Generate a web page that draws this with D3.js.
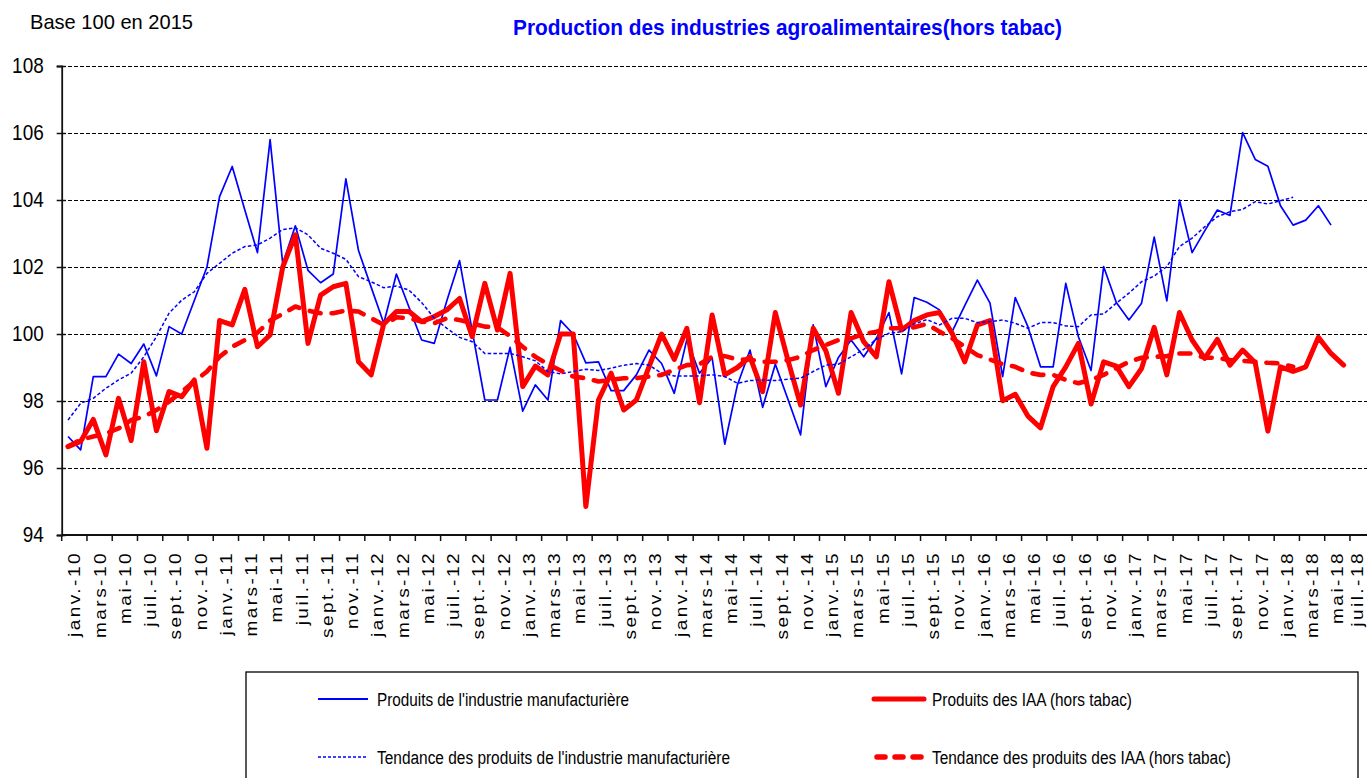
<!DOCTYPE html>
<html>
<head>
<meta charset="utf-8">
<script src="https://cdn.jsdelivr.net/npm/d3@7"></script>
<style>
body { margin: 0; background: #fff; }
svg { display: block; font-family: 'Liberation Sans', Arial, sans-serif; }
</style>
</head>
<body>
<div id="chart"></div>
<script>
// tick labels, one every two months
var tickLabels = [
    'janv.-10', 'mars-10', 'mai-10', 'juil.-10', 'sept.-10', 'nov.-10',
    'janv.-11', 'mars-11', 'mai-11', 'juil.-11', 'sept.-11', 'nov.-11',
    'janv.-12', 'mars-12', 'mai-12', 'juil.-12', 'sept.-12', 'nov.-12',
    'janv.-13', 'mars-13', 'mai-13', 'juil.-13', 'sept.-13', 'nov.-13',
    'janv.-14', 'mars-14', 'mai-14', 'juil.-14', 'sept.-14', 'nov.-14',
    'janv.-15', 'mars-15', 'mai-15', 'juil.-15', 'sept.-15', 'nov.-15',
    'janv.-16', 'mars-16', 'mai-16', 'juil.-16', 'sept.-16', 'nov.-16',
    'janv.-17', 'mars-17', 'mai-17', 'juil.-17', 'sept.-17', 'nov.-17',
    'janv.-18', 'mars-18', 'mai-18', 'juil.-18'
];

var yTicks = [94, 96, 98, 100, 102, 104, 106, 108];

// Produits de l'industrie manufacturière (janv.-10 -> mai-18)
var indus = [
    96.94, 96.54, 98.73, 98.73, 99.40, 99.12, 99.70, 98.75, 100.22, 100.0, 101.0, 102.0,
    104.1, 105.0, 103.7, 102.43, 105.8, 102.1, 103.23, 101.9, 101.53, 101.79, 104.63, 102.49,
    101.4, 100.32, 101.79, 100.8, 99.82, 99.72, 101.0, 102.19, 100.1, 98.03, 98.03, 99.6,
    97.70, 98.48, 98.03, 100.4, 100.0, 99.14, 99.17, 98.31, 98.31, 98.78, 99.52, 99.12,
    98.23, 99.84, 98.83, 99.29, 96.71, 98.48, 99.52, 97.81, 99.10, 98.05, 96.99, 100.27,
    98.43, 99.3, 99.82, 99.32, 99.87, 100.64, 98.81, 101.09, 100.95, 100.72, 100.07, 100.85,
    101.61, 100.92, 98.73, 101.09, 100.22, 99.02, 99.02, 101.51, 99.92, 98.91, 102.01, 100.94,
    100.42, 100.92, 102.89, 100.99, 104.0, 102.43, 103.08, 103.7, 103.54, 106.01, 105.21, 105.01,
    103.83, 103.25, 103.40, 103.83, 103.25
];

// Produits des IAA (hors tabac) (janv.-10 -> juin-18)
var iaa = [
    96.64, 96.79, 97.45, 96.39, 98.08, 96.82, 99.17, 97.11, 98.28, 98.13, 98.63, 96.59,
    100.4, 100.27, 101.33, 99.62, 99.97, 102.0, 102.96, 99.72, 101.16, 101.41, 101.51, 99.17,
    98.78, 100.3, 100.67, 100.67, 100.37, 100.52, 100.72, 101.06, 99.92, 101.51, 100.12, 101.81,
    98.43, 99.04, 98.78, 100.0, 100.0, 94.85, 98.03, 98.83, 97.73, 98.03, 99.02, 100.0,
    99.24, 100.17, 97.95, 100.57, 98.78, 99.0, 99.32, 98.28, 100.64, 99.22, 97.88, 100.17,
    99.5, 98.23, 100.64, 99.77, 99.32, 101.56, 100.12, 100.4, 100.57, 100.64, 100.02, 99.17,
    100.27, 100.4, 98.01, 98.2, 97.55, 97.2, 98.43, 99.02, 99.72, 97.91, 99.17, 99.04,
    98.43, 98.97, 100.2, 98.78, 100.64, 99.82, 99.27, 99.84, 99.07, 99.52, 99.14, 97.10,
    99.02, 98.88, 99.02, 99.9, 99.42, 99.07
];

// Tendance des produits de l'industrie manufacturière (janv.-10 -> févr.-18)
var indusTrend = [
    97.43, 97.93, 98.08, 98.38, 98.63, 98.83, 99.32, 99.92, 100.62, 101.01, 101.26, 101.81,
    102.11, 102.41, 102.61, 102.66, 102.86, 103.12, 103.17, 102.96, 102.56, 102.41, 102.23, 101.71,
    101.56, 101.38, 101.43, 101.31, 100.94, 100.47, 100.17, 99.9, 99.77, 99.42, 99.42, 99.42,
    99.32, 99.2, 98.88, 98.81, 98.88, 98.95, 98.91, 98.98, 99.07, 99.12, 99.07, 98.83,
    98.75, 98.75, 98.75, 98.78, 98.73, 98.53, 98.61, 98.63, 98.61, 98.65, 98.68, 98.88,
    99.07, 99.1, 99.32, 99.54, 99.84, 100.02, 100.07, 100.3, 100.43, 100.27, 100.47, 100.47,
    100.34, 100.37, 100.42, 100.32, 100.17, 100.34, 100.34, 100.24, 100.22, 100.57, 100.6, 100.92,
    101.22, 101.56, 101.73, 102.01, 102.61, 102.86, 103.2, 103.5, 103.65, 103.72, 103.95, 103.88,
    103.98, 104.08
];

// Tendance des produits des IAA (hors tabac) (janv.-10 -> févr.-18)
var iaaTrend = [
    96.64, 96.84, 96.94, 97.03, 97.18, 97.43, 97.53, 97.73, 97.98, 98.28, 98.58, 98.88,
    99.32, 99.62, 99.82, 100.04, 100.4, 100.6, 100.82, 100.7, 100.62, 100.62, 100.7, 100.67,
    100.47, 100.27, 100.5, 100.47, 100.37, 100.32, 100.47, 100.42, 100.32, 100.22, 100.2, 99.94,
    99.62, 99.32, 99.1, 98.91, 98.73, 98.68, 98.58, 98.63, 98.68, 98.68, 98.73, 98.78,
    98.93, 99.07, 99.1, 99.32, 99.34, 99.24, 99.24, 99.17, 99.17, 99.22, 99.32, 99.52,
    99.67, 99.82, 99.87, 100.0, 100.07, 100.17, 100.17, 100.2, 100.3, 100.07, 99.87, 99.62,
    99.37, 99.24, 99.1, 99.02, 98.85, 98.78, 98.78, 98.63, 98.53, 98.63, 98.78, 98.98,
    99.17, 99.29, 99.32, 99.34, 99.42, 99.42, 99.29, 99.29, 99.22, 99.2, 99.17, 99.14,
    99.12, 99.02
];

var width = 1367, height = 778;
var plot = { left: 61.7, top: 66, bottom: 535, step: 12.63 };
var squeeze = 0.86; // the reference text is a bit narrow

var svg = d3.select('#chart').append('svg')
    .attr('width', width)
    .attr('height', height);

var nMonths = tickLabels.length * 2;
var right = plot.left + nMonths * plot.step;

var x = d3.scaleBand()
    .domain(d3.range(nMonths))
    .range([plot.left, right]);

var xg = d3.scaleBand()
    .domain(tickLabels)
    .range([plot.left, right]);

var y = d3.scaleLinear()
    .domain([d3.min(yTicks), d3.max(yTicks)])
    .range([plot.bottom, plot.top]);

function narrow(sel, factor) {
    sel.each(function () {
        var w = this.getComputedTextLength();
        d3.select(this)
            .attr('textLength', w * factor)
            .attr('lengthAdjust', 'spacingAndGlyphs');
    });
}

///////////////////////////////////////////////////////////////
// grid
///////////////////////////////////////////////////////////////

svg.append('g')
    .selectAll('line')
    .data(yTicks.slice(1))
    .enter()
    .append('line')
    .attr('x1', plot.left)
    .attr('x2', right)
    .attr('y1', d => Math.round(y(d)) + 0.5)
    .attr('y2', d => Math.round(y(d)) + 0.5)
    .attr('stroke', '#000')
    .attr('stroke-width', 1.2)
    .attr('stroke-dasharray', '4,2')
    .attr('shape-rendering', 'crispEdges');

///////////////////////////////////////////////////////////////
// axes
///////////////////////////////////////////////////////////////

var yAxis = d3.axisLeft(y)
    .tickValues(yTicks)
    .tickSize(5)
    .tickPadding(13);

var gy = svg.append('g')
    .attr('transform', 'translate(' + plot.left + ',0)')
    .call(yAxis);

gy.select('.domain').attr('stroke', '#111').attr('stroke-width', 1.8);
gy.selectAll('.tick line').attr('x1', 4).attr('stroke', '#111').attr('stroke-width', 1.5);
gy.selectAll('.tick text')
    .attr('font-family', "'Liberation Sans', Arial, sans-serif")
    .attr('font-size', 22)
    .attr('fill', '#000')
    .attr('dy', '0.3em')
    .call(narrow, squeeze);

// x axis line and ticks at every group boundary
svg.append('line')
    .attr('x1', plot.left)
    .attr('x2', right)
    .attr('y1', plot.bottom)
    .attr('y2', plot.bottom)
    .attr('stroke', '#111')
    .attr('stroke-width', 2);

svg.append('g')
    .selectAll('line')
    .data(tickLabels)
    .enter()
    .append('line')
    .attr('x1', d => xg(d))
    .attr('x2', d => xg(d))
    .attr('y1', plot.bottom)
    .attr('y2', plot.bottom + 6)
    .attr('stroke', '#111')
    .attr('stroke-width', 1.5);

// the last label sits on the picture's edge: keep it inside
svg.append('g')
    .selectAll('text')
    .data(tickLabels)
    .enter()
    .append('text')
    .attr('transform', d => 'translate(' + Math.min(xg(d) + xg.bandwidth() / 2, width - 10) + ',' + (plot.bottom + 16) + ') rotate(-90) scale(1.12,1)')
    .attr('text-anchor', 'end')
    .attr('dy', '0.35em')
    .attr('font-size', 17)
    .attr('letter-spacing', 2.2)
    .attr('fill', '#000')
    .text(d => d);

///////////////////////////////////////////////////////////////
// series
///////////////////////////////////////////////////////////////

var line = d3.line()
    .x((d, i) => x(i) + x.bandwidth() / 2)
    .y(d => y(d));

svg.append('path')
    .datum(indus)
    .attr('fill', 'none')
    .attr('stroke', '#0000ff')
    .attr('stroke-width', 1.7)
    .attr('stroke-linejoin', 'round')
    .attr('d', line);

svg.append('path')
    .datum(iaa)
    .attr('fill', 'none')
    .attr('stroke', '#ff0000')
    .attr('stroke-width', 5)
    .attr('stroke-linejoin', 'round')
    .attr('stroke-linecap', 'round')
    .attr('d', line);

svg.append('path')
    .datum(indusTrend)
    .attr('fill', 'none')
    .attr('stroke', '#0000ff')
    .attr('stroke-width', 1.5)
    .attr('stroke-dasharray', '3.5,2.2')
    .attr('d', line);

svg.append('path')
    .datum(iaaTrend)
    .attr('fill', 'none')
    .attr('stroke', '#ff0000')
    .attr('stroke-width', 4.6)
    .attr('stroke-dasharray', '11,11')
    .attr('stroke-linecap', 'round')
    .attr('stroke-linejoin', 'round')
    .attr('d', line);

///////////////////////////////////////////////////////////////
// titles
///////////////////////////////////////////////////////////////

svg.append('text')
    .attr('x', 30)
    .attr('y', 29)
    .attr('font-size', 21)
    .attr('textLength', 163)
    .attr('lengthAdjust', 'spacingAndGlyphs')
    .text('Base 100 en 2015');

svg.append('text')
    .attr('x', 513)
    .attr('y', 35)
    .attr('font-size', 22)
    .attr('font-weight', 'bold')
    .attr('fill', '#0000ff')
    .attr('textLength', 549)
    .attr('lengthAdjust', 'spacingAndGlyphs')
    .text('Production des industries agroalimentaires(hors tabac)');

///////////////////////////////////////////////////////////////
// legend
///////////////////////////////////////////////////////////////

var legendItems = [
    { name: "Produits de l'industrie manufacturière", color: '#0000ff', w: 2, dash: null, cap: 'butt', lx: 318, ly: 699, len: 252 },
    { name: 'Produits des IAA (hors tabac)', color: '#ff0000', w: 5, dash: null, cap: 'round', lx: 874, ly: 699, len: 200 },
    { name: "Tendance des produits de l'industrie manufacturière", color: '#0000ff', w: 1.5, dash: '3,2', cap: 'butt', lx: 318, ly: 757, len: 353 },
    { name: 'Tendance des produits des IAA (hors tabac)', color: '#ff0000', w: 5.5, dash: '8,10', cap: 'round', lx: 877, ly: 757, len: 299 }
];

var legend = svg.append('g');

legend.append('rect')
    .attr('x', 246)
    .attr('y', 672)
    .attr('width', 1112)
    .attr('height', 140)
    .attr('fill', '#fff')
    .attr('stroke', '#000')
    .attr('stroke-width', 1.3);

var li = legend.selectAll('.item')
    .data(legendItems)
    .enter()
    .append('g')
    .attr('class', 'item');

li.append('line')
    .attr('x1', d => d.lx)
    .attr('x2', d => d.lx + 50)
    .attr('y1', d => d.ly)
    .attr('y2', d => d.ly)
    .attr('stroke', d => d.color)
    .attr('stroke-width', d => d.w)
    .attr('stroke-linecap', d => d.cap)
    .attr('stroke-dasharray', d => d.dash);

li.append('text')
    .attr('x', d => d.lx < 500 ? 377 : 932)
    .attr('y', d => d.ly + 6.5)
    .attr('font-size', 18)
    .attr('textLength', d => d.len)
    .attr('lengthAdjust', 'spacingAndGlyphs')
    .text(d => d.name);
</script>
</body>
</html>
